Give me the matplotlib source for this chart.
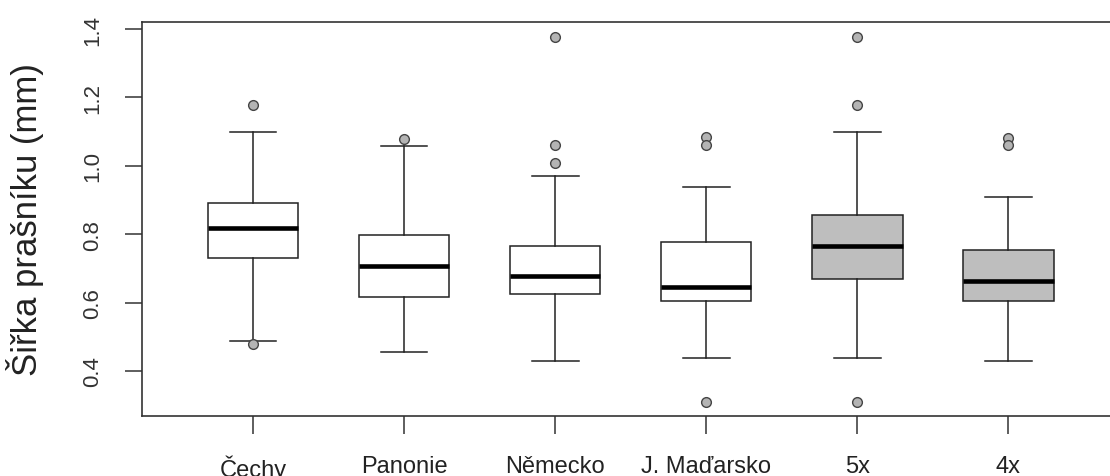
import matplotlib
matplotlib.use("Agg")
import matplotlib.pyplot as plt

plt.rcParams["font.family"] = ["Liberation Sans", "DejaVu Sans"]

# five-number summaries of anther width per group (mm)
groups = ["Čechy", "Panonie", "Německo", "J. Maďarsko", "5x", "4x"]
whisk_lo = [0.489, 0.455, 0.428, 0.437, 0.437, 0.428]
q1 = [0.730, 0.615, 0.625, 0.606, 0.669, 0.606]
median = [0.819, 0.706, 0.678, 0.645, 0.766, 0.664]
q3 = [0.890, 0.797, 0.767, 0.776, 0.856, 0.755]
whisk_hi = [1.098, 1.059, 0.970, 0.937, 1.098, 0.908]
outliers = [
    [1.178, 0.479],
    [1.078],
    [1.376, 1.061, 1.008],
    [1.083, 1.061, 0.310],
    [1.376, 1.178, 0.310],
    [1.080, 1.061],
]
fills = ["white", "white", "white", "white", "#bebebe", "#bebebe"]

stats = []
for i, g in enumerate(groups):
    stats.append(dict(label=g, whislo=whisk_lo[i], q1=q1[i], med=median[i],
                      q3=q3[i], whishi=whisk_hi[i], fliers=outliers[i]))

fig = plt.figure(figsize=(11.1, 4.77), dpi=100)
ax = fig.add_axes([142 / 1110, 1 - 417 / 477, 972 / 1110, 394 / 477])

bp = ax.bxp(
    stats, positions=range(1, 7), widths=0.6, capwidths=0.31,
    patch_artist=True,
    boxprops=dict(linewidth=1.1, edgecolor="#222222"),
    medianprops=dict(linewidth=3.3, color="black", solid_capstyle="butt"),
    whiskerprops=dict(linewidth=1.1, color="#222222"),
    capprops=dict(linewidth=1.1, color="#222222"),
    flierprops=dict(marker="o", markersize=7, markerfacecolor="#b4b4b4",
                    markeredgecolor="#444444", markeredgewidth=1.0),
)
for patch, c in zip(bp["boxes"], fills):
    patch.set_facecolor(c)

ax.set_xlim(0.265, 6.70)
ax.set_ylim(0.2685, 1.4205)
ax.set_yticks([0.4, 0.6, 0.8, 1.0, 1.2, 1.4])
ax.set_yticklabels(["0.4", "0.6", "0.8", "1.0", "1.2", "1.4"],
                   rotation=90, va="center", fontsize=16, color="#333333")
ax.set_xticks(range(1, 7))
ax.set_xticklabels(groups, fontsize=17, color="#222222")
ax.tick_params(axis="y", length=12, width=1.1, color="#333333", pad=16)
ax.tick_params(axis="x", length=13, width=1.1, color="#333333", pad=15)

for s in ax.spines.values():
    s.set_linewidth(1.2)
    s.set_color("#333333")

ax.set_ylabel("Šiřka prašníku (mm)", fontsize=25, color="#222222")
ax.yaxis.set_label_coords(-0.101, 0.5)

fig.savefig("out.png", dpi=100)
